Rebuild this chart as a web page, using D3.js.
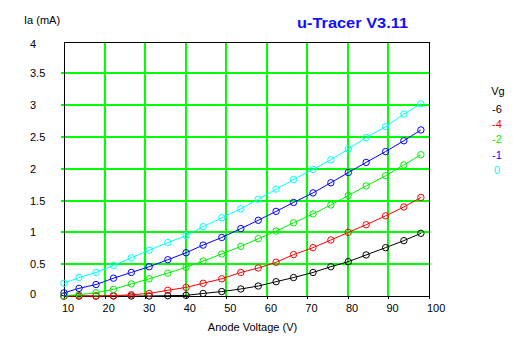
<!DOCTYPE html>
<html>
<head>
<meta charset="utf-8">
<script src="https://cdn.jsdelivr.net/npm/d3@7"></script>
<style>
  html, body { margin: 0; padding: 0; background: #fff; }
  svg { display: block; }
  text { font-family: "Liberation Sans", Arial, sans-serif; }
</style>
</head>
<body>
<svg id="chart" width="529" height="347"></svg>
<script>
// ---- data ----
const anodeVoltage = [10, 13.7, 17.9, 22.2, 26.6, 31, 35.6, 40.1, 44.3, 48.9, 53.6, 57.9, 62.3, 66.6, 71.4, 75.8, 80.1, 84.5, 89.3, 93.8, 98];
const gridVoltages = ["-6", "-4", "-2", "-1", "0"];
const seriesColors = ["#000000", "#ff0000", "#00ee00", "#0000ff", "#00ffff"];
const ia_m6 = [0, 0, 0, 0, 0, 0, 0.005, 0.01, 0.04, 0.07, 0.11, 0.157, 0.225, 0.29, 0.37, 0.46, 0.54, 0.645, 0.76, 0.87, 0.985];
const ia_m4 = [0, 0, 0, 0.005, 0.02, 0.04, 0.09, 0.135, 0.2, 0.27, 0.37, 0.44, 0.53, 0.65, 0.76, 0.88, 1.00, 1.12, 1.26, 1.40, 1.55];
const ia_m2 = [0.005, 0.02, 0.05, 0.105, 0.19, 0.27, 0.36, 0.45, 0.55, 0.66, 0.78, 0.90, 1.02, 1.15, 1.29, 1.43, 1.58, 1.73, 1.89, 2.06, 2.22];
const ia_m1 = [0.05, 0.12, 0.18, 0.28, 0.37, 0.46, 0.57, 0.68, 0.80, 0.92, 1.06, 1.19, 1.33, 1.47, 1.62, 1.78, 1.94, 2.10, 2.27, 2.44, 2.61];
const ia_0  = [0.20, 0.29, 0.37, 0.48, 0.60, 0.72, 0.84, 0.95, 1.09, 1.23, 1.37, 1.52, 1.68, 1.83, 1.99, 2.14, 2.31, 2.49, 2.66, 2.86, 3.02];
const seriesValues = [ia_m6, ia_m4, ia_m2, ia_m1, ia_0];
const xTicks = [10, 20, 30, 40, 50, 60, 70, 80, 90, 100];
const yTicks = [0, 0.5, 1, 1.5, 2, 2.5, 3, 3.5, 4];
const yTickLabels = ["0", "0.5", "1", "1.5", "2", "2.5", "3", "3.5", "4"];

// ---- layout ----
const pLeft = 64, pRight = 429, pTop = 41.5, pBottom = 296;
const svg = d3.select("#chart");
const x = d3.scaleLinear().domain([10, 100]).range([pLeft, pRight]);
const y = d3.scaleLinear().domain([0, 4]).range([pBottom, pTop]);

// grid
const g = svg.append("g").attr("shape-rendering", "crispEdges");
g.selectAll(".vg").data(xTicks.filter(d => d > 10 && d < 100)).enter().append("line")
  .attr("x1", d => Math.round(x(d))).attr("x2", d => Math.round(x(d)))
  .attr("y1", pTop).attr("y2", pBottom)
  .attr("stroke", "#00ff00").attr("stroke-width", 2);
g.selectAll(".hg").data(yTicks.filter(d => d > 0 && d < 4)).enter().append("line")
  .attr("x1", pLeft - 3).attr("x2", pRight)
  .attr("y1", d => Math.round(y(d))).attr("y2", d => Math.round(y(d)))
  .attr("stroke", "#00ff00").attr("stroke-width", 2);

// frame
g.append("rect").attr("x", pLeft + 0.5).attr("y", Math.round(pTop) + 0.5)
  .attr("width", pRight - pLeft).attr("height", pBottom - Math.round(pTop))
  .attr("fill", "none").attr("stroke", "#000").attr("stroke-width", 1);

// bottom ticks
g.selectAll(".bt").data(xTicks).enter().append("line")
  .attr("x1", d => Math.round(x(d)) + 0.5).attr("x2", d => Math.round(x(d)) + 0.5)
  .attr("y1", pBottom).attr("y2", pBottom + 3)
  .attr("stroke", "#000");

// axis labels
svg.selectAll(".xl").data(xTicks).enter().append("text")
  .attr("x", d => x(d) - 2).attr("y", 312)
  .attr("font-size", 11).attr("fill", "#000")
  .text(d => d);
svg.selectAll(".yl").data(yTicks).enter().append("text")
  .attr("x", 30).attr("y", d => Math.min(298, Math.max(48, y(d) + 4)))
  .attr("font-size", 11).attr("fill", "#000")
  .text((d, i) => yTickLabels[i]);

svg.append("text").attr("x", 24).attr("y", 24).attr("font-size", 11).text("Ia (mA)");
svg.append("text").attr("x", (pLeft + pRight) / 2 + 6).attr("y", 331)
  .attr("text-anchor", "middle").attr("font-size", 11).text("Anode Voltage (V)");

svg.append("text").attr("x", 297).attr("y", 27.5)
  .attr("font-size", 14).attr("font-weight", "bold").attr("fill", "#1010ff")
  .attr("textLength", 111).attr("lengthAdjust", "spacingAndGlyphs")
  .text("u-Tracer V3.11");

// legend
svg.append("text").attr("x", 498).attr("y", 95).attr("text-anchor", "middle")
  .attr("font-size", 11).text("Vg");
svg.selectAll(".lg").data(gridVoltages).enter().append("text")
  .attr("x", 497).attr("y", (d, i) => 113 + i * 15.2)
  .attr("text-anchor", "middle").attr("font-size", 11)
  .attr("fill", (d, i) => seriesColors[i])
  .text(d => d);

// series
const line = d3.line().x((d, i) => x(anodeVoltage[i])).y(d => y(d));
seriesValues.forEach((vals, si) => {
  svg.append("path").datum(vals)
    .attr("d", line).attr("fill", "none")
    .attr("stroke", seriesColors[si]).attr("stroke-width", 1);
  svg.selectAll(".m" + si).data(vals).enter().append("circle")
    .attr("cx", (d, i) => x(anodeVoltage[i]))
    .attr("cy", d => y(d))
    .attr("r", 3.2)
    .attr("fill", "none")
    .attr("stroke", seriesColors[si]).attr("stroke-width", 1);
});
</script>
</body>
</html>
